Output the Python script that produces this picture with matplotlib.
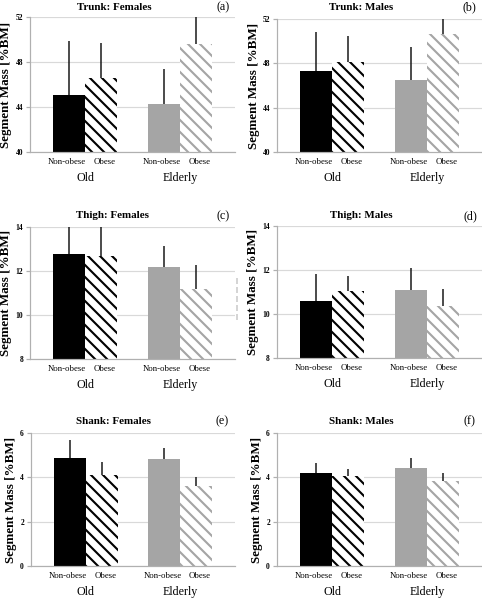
import matplotlib
matplotlib.use("Agg")
import matplotlib.pyplot as plt
from matplotlib.lines import Line2D
import numpy as np

DPI = 108
W, H = 482, 599

plt.rcParams['font.family'] = ['Liberation Serif', 'DejaVu Serif']
plt.rcParams['hatch.linewidth'] = 1.4

# ---------------- data ----------------
age_groups = ['Old', 'Elderly']
bmi_groups = ['Non-obese', 'Obese']
panel_titles = ['Trunk: Females', 'Trunk: Males', 'Thigh: Females',
                'Thigh: Males', 'Shank: Females', 'Shank: Males']
panel_letters = ['(a)', '(b)', '(c)', '(d)', '(e)', '(f)']

# order: Old non-obese, Old obese, Elderly non-obese, Elderly obese
trunk_f_mean = [45.07, 46.55, 44.30, 49.57]
trunk_f_sd = [4.77, 3.14, 3.05, 3.20]
trunk_m_mean = [47.32, 48.13, 46.48, 50.62]
trunk_m_sd = [3.48, 2.34, 2.97, 2.60]
thigh_f_mean = [12.76, 12.70, 12.17, 11.20]
thigh_f_sd = [1.60, 1.50, 0.97, 1.06]
thigh_m_mean = [10.60, 11.05, 11.11, 10.37]
thigh_m_sd = [1.22, 0.68, 0.97, 0.76]
shank_f_mean = [4.85, 4.09, 4.82, 3.60]
shank_f_sd = [0.85, 0.59, 0.50, 0.43]
shank_m_mean = [4.18, 4.05, 4.43, 3.84]
shank_m_sd = [0.47, 0.32, 0.42, 0.37]

trunk_ticks = [40, 44, 48, 52]
thigh_ticks = [8, 10, 12, 14]
shank_ticks = [0, 2, 4, 6]

means = [trunk_f_mean, trunk_m_mean, thigh_f_mean, thigh_m_mean, shank_f_mean, shank_m_mean]
sds = [trunk_f_sd, trunk_m_sd, thigh_f_sd, thigh_m_sd, shank_f_sd, shank_m_sd]
ticks = [trunk_ticks, trunk_ticks, thigh_ticks, thigh_ticks, shank_ticks, shank_ticks]

# ---------------- layout (pixels) ----------------
# left, right, top, bottom
boxes = [(30, 235, 17, 152), (277, 482, 19, 152),
         (30, 235, 227, 359), (277, 482, 226, 358),
         (31, 235, 433, 566), (277, 482, 433, 566)]
title_pos = [(114, 7), (361, 8), (113, 215), (361, 216), (114, 422), (361, 422)]
letter_pos = [(223, 7), (469, 7), (223, 216), (470, 216), (222, 421), (470, 421)]


def pt(px):
    return px * 72.0 / DPI


fig = plt.figure(figsize=(W / DPI, H / DPI), dpi=DPI)
fig.patch.set_facecolor('white')

GRAY = '#a5a5a5'
AXC = '#b0b0b0'
bw = 0.337
faces = ['black', 'white', GRAY, 'white']
edges = ['black', 'black', GRAY, GRAY]
hatches = [None, '\\\\\\', None, '\\\\\\']

for i in range(6):
    L, R, T, B = boxes[i]
    ax = fig.add_axes([L / W, 1 - B / H, (R - L) / W, (B - T) / H])
    m = means[i]
    s = sds[i]
    xs = []
    for g in range(2):
        for k in range(2):
            xs.append(g + (k - 0.5) * bw)
    for j in range(4):
        ax.bar(xs[j], m[j] - ticks[i][0], bottom=ticks[i][0], width=bw,
               color=faces[j], edgecolor=edges[j], linewidth=0,
               hatch=hatches[j], zorder=2)
    ax.errorbar(xs, m, yerr=[np.zeros(4), s], fmt='none', ecolor='#151515',
                elinewidth=1.0, capsize=0, zorder=3)
    ax.set_xlim(-0.579, 1.579)
    ax.set_ylim(ticks[i][0], ticks[i][-1])
    ax.set_yticks(ticks[i])
    ax.set_yticklabels([str(t) for t in ticks[i]], fontsize=pt(7.5),
                       fontweight='bold')
    ax.set_xticks([])
    ax.grid(axis='y', color='#d9d9d9', linewidth=0.8, zorder=0)
    ax.set_axisbelow(True)
    for sp in ['top', 'right']:
        ax.spines[sp].set_visible(False)
    for sp in ['left', 'bottom']:
        ax.spines[sp].set_color(AXC)
        ax.spines[sp].set_linewidth(0.8)
    ax.tick_params(axis='y', length=pt(4), width=0.8, color=AXC, pad=pt(3))
    ax.set_ylabel('Segment Mass [%BM]', fontsize=pt(13), fontweight='bold',
                  labelpad=pt(3))
    for g in range(2):
        ax.annotate(bmi_groups[0], xy=(g - 0.19, 0), xycoords=('data', 'axes fraction'),
                    xytext=(0, -pt(10)), textcoords='offset points',
                    ha='center', va='center', fontsize=pt(8.7))
        ax.annotate(bmi_groups[1], xy=(g + 0.21, 0), xycoords=('data', 'axes fraction'),
                    xytext=(0, -pt(10)), textcoords='offset points',
                    ha='center', va='center', fontsize=pt(8.7))
        ax.annotate(age_groups[g], xy=(g + 0.0, 0), xycoords=('data', 'axes fraction'),
                    xytext=(0, -pt(26)), textcoords='offset points',
                    ha='center', va='center', fontsize=pt(12))
    tx, ty = title_pos[i]
    fig.text(tx / W, 1 - ty / H, panel_titles[i], ha='center', va='center',
             fontsize=pt(11), fontweight='bold')
    lx, ly = letter_pos[i]
    fig.text(lx / W, 1 - ly / H, panel_letters[i], ha='center', va='center',
             fontsize=pt(12))

# small dashed scan mark to the right of panel (c)
fig.add_artist(Line2D([237 / W, 237 / W], [1 - 278 / H, 1 - 320 / H],
                      transform=fig.transFigure, color='#c8c8c8',
                      linewidth=1.0, linestyle=(0, (4, 2))))

fig.savefig('out.png', dpi=DPI)
